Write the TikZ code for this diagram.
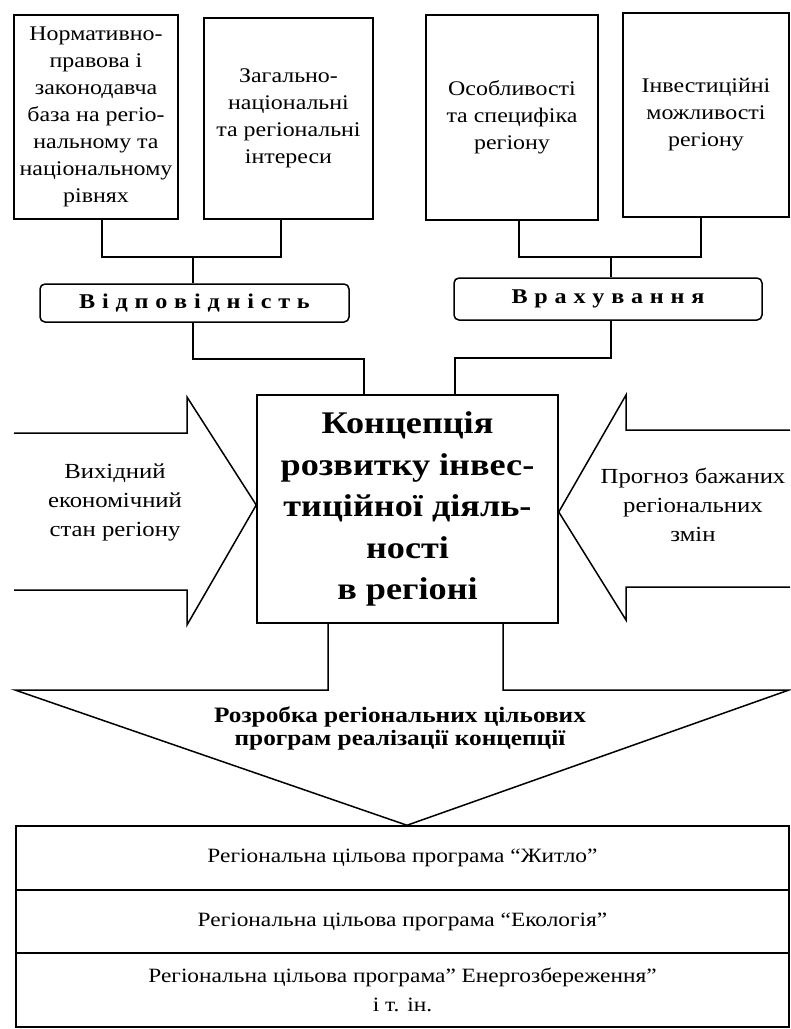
\documentclass[tikz,border=0pt]{standalone}
\usepackage{fontspec}
\setmainfont[FakeStretch=1.15]{Liberation Serif}
\newcommand{\lsp}{\kern6.8pt}
\begin{document}
\begin{tikzpicture}[x=1pt,y=-1pt,line width=1.5pt,
  topbox/.style={draw,align=center,inner sep=2pt,font=\fontsize{20.8}{27}\selectfont},
  labbox/.style={draw,rounded corners=5pt,inner sep=0pt,font=\fontsize{21}{22}\selectfont\bfseries},
  conbox/.style={draw,align=center,inner sep=2pt,font=\fontsize{31.5}{41.5}\selectfont\bfseries},
  rowbox/.style={draw,align=center,inner sep=2pt,minimum width=773pt,font=\fontsize{20.3}{29}\selectfont},
  arrtxt/.style={align=center,inner sep=0pt,font=\fontsize{21.5}{29}\selectfont},
  devtxt/.style={align=center,inner sep=0pt,font=\fontsize{22}{23}\selectfont\bfseries}]
\useasboundingbox (0,0) rectangle (791,1029);

% top boxes
\node[topbox,minimum width=164pt,minimum height=204pt] (b1) at (96,117)
  {Нормативно-\\правова і\\законодавча\\база на регіо-\\нальному та\\національному\\рівнях};
\node[topbox,minimum width=169pt,minimum height=201pt] (b2) at (288.5,118.5)
  {Загально-\\національні\\та регіональні\\інтереси};
\node[topbox,minimum width=172pt,minimum height=205pt] (b3) at (512,117.5)
  {Особливості\\та специфіка\\регіону};
\node[topbox,minimum width=166pt,minimum height=204pt] (b4) at (706,115)
  {Інвестиційні\\можливості\\регіону};

% label boxes
\node[labbox,minimum width=309pt,minimum height=38pt] (vid) at (194.5,303)
  {В\lsp і\lsp д\lsp п\lsp о\lsp в\lsp і\lsp д\lsp н\lsp і\lsp с\lsp т\lsp ь};
\node[labbox,minimum width=308pt,minimum height=42pt] (vra) at (608,299)
  {В\lsp р\lsp а\lsp х\lsp у\lsp в\lsp а\lsp н\lsp н\lsp я};

% concept box
\node[conbox,minimum width=301pt,minimum height=228pt] (con) at (407.5,509)
  {Концепція\\розвитку інвес-\\тиційної діяль-\\ності\\в регіоні};

% bottom rows
\node[rowbox,minimum height=64pt] (r1) at (402.5,858) {Регіональна цільова програма “Житло”};
\node[rowbox,minimum height=63pt] (r2) at (402.5,921.5) {Регіональна цільова програма “Екологія”};
\node[rowbox,minimum height=74pt] (r3) at (402.5,990) {Регіональна цільова програма" Енергозбереження”\\і т. ін.};

% top-left connectors
\coordinate (jl) at (193,257);
\draw ([xshift=6pt]b1.south) |- (jl) -| ([xshift=-7.5pt]b2.south);
\draw (jl) -- (jl |- vid.north);
\coordinate (cl) at (364,359);
\draw (jl |- vid.south) |- (cl) -- (cl |- con.north);

% top-right connectors
\coordinate (jr) at (611,257);
\draw ([xshift=7pt]b3.south) |- (jr) -| ([xshift=-5pt]b4.south);
\draw (jr) -- (jr |- vra.north);
\coordinate (cr) at (455,358);
\draw (jr |- vra.south) |- (cr) -- (cr |- con.north);

% side arrows
\draw (14,433) -- (187,433) -- (187,397) -- ([yshift=4pt]con.west) -- (187,625) -- (187,590) -- (14,590);
\draw (790,430) -- (626,430) -- (626,395) -- ([yshift=-3pt]con.east) -- (626,620) -- (626,587) -- (790,587);
\node[arrtxt] (lt) at (115,502) {Вихідний\\економічний\\стан регіону};
\node[arrtxt] (rt) at (693,505) {Прогноз бажаних\\регіональних\\змін};

% bottom triangle arrow
\coordinate (tl) at (15,690);
\coordinate (tr) at (789,690);
\draw ([xshift=-79.5pt]con.south) |- (tl) -- ([xshift=4.5pt]r1.north) -- (tr) -| ([xshift=95.5pt]con.south);
\node[devtxt] (dev) at (400,728) {Розробка регіональних цільових\\програм реалізації концепції};
\end{tikzpicture}
\end{document}
